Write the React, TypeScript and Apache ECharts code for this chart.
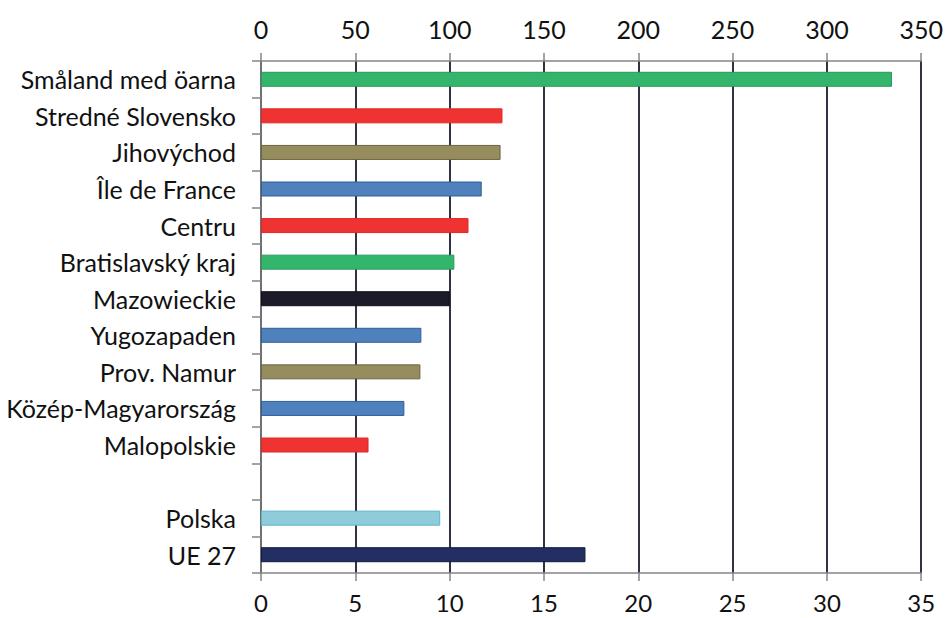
import React, { useEffect, useRef } from "react";
import * as echarts from "echarts";

const categories = [
  "Småland med öarna",
  "Stredné Slovensko",
  "Jihovýchod",
  "Île de France",
  "Centru",
  "Bratislavský kraj",
  "Mazowieckie",
  "Yugozapaden",
  "Prov. Namur",
  "Közép-Magyarország",
  "Malopolskie",
  "",
  "Polska",
  "UE 27",
];

const values: (number | null)[] = [33.45, 12.8, 12.7, 11.7, 11.0, 10.25, 10.0, 8.5, 8.45, 7.6, 5.7, null, 9.5, 17.2];

const barColors = [
  "#33b56b", "#ef3232", "#968d5e", "#4f81bd", "#ef3232", "#33b56b", "#1c1b29",
  "#4f81bd", "#968d5e", "#4f81bd", "#ef3232", "#ffffff", "#8ecbdb", "#232e63",
];
const barBorders = [
  "#2a9a58", "#e02828", "#6d6440", "#2e5e98", "#e02828", "#2a9a58", "#111118",
  "#2e5e98", "#6d6440", "#2e5e98", "#e02828", "#ffffff", "#5ab5cc", "#111a40",
];

const bottomTicks = [0, 35, 5];
const topTicks = [0, 350, 50];

export default function App() {
  const ref = useRef<HTMLDivElement>(null);
  useEffect(() => {
    if (!ref.current) return;
    const chart = echarts.init(ref.current, null, { renderer: "svg" });
    const font = "Lato";
    const labelStyle = { color: "#111", fontSize: 25, fontFamily: font };
    chart.setOption({
      animation: false,
      backgroundColor: "#ffffff",
      grid: { left: 261, right: 22, top: 61, bottom: 45, containLabel: false },
      xAxis: [
        {
          type: "value",
          position: "bottom",
          min: bottomTicks[0],
          max: bottomTicks[1],
          interval: bottomTicks[2],
          axisLine: { show: true, lineStyle: { color: "#858585", width: 1.5 } },
          axisTick: { show: true, length: 8, lineStyle: { color: "#858585", width: 1.5 } },
          axisLabel: { ...labelStyle, fontSize: 24, lineHeight: 22, margin: 18 },
          splitLine: { show: true, lineStyle: { color: "#1a1c30", width: 1.8 } },
        },
        {
          type: "value",
          position: "top",
          min: topTicks[0],
          max: topTicks[1],
          interval: topTicks[2],
          axisLine: { show: true, lineStyle: { color: "#858585", width: 1.5 } },
          axisTick: { show: true, length: 8, lineStyle: { color: "#858585", width: 1.5 } },
          axisLabel: { ...labelStyle, lineHeight: 22, margin: 21 },
          splitLine: { show: false },
        },
      ],
      yAxis: {
        type: "category",
        data: categories,
        inverse: true,
        axisLine: { show: true, onZero: false, lineStyle: { color: "#858585", width: 1.5 } },
        axisTick: { show: true, length: 9, lineStyle: { color: "#858585", width: 1.5 } },
        axisLabel: { ...labelStyle, margin: 25 },
        splitLine: { show: false },
      },
      series: [
        {
          type: "bar",
          xAxisIndex: 0,
          barWidth: 15,
          data: values.map((v, i) => ({
            value: v,
            itemStyle: { color: barColors[i], borderColor: barBorders[i], borderWidth: 1 },
          })),
        },
      ],
    });
    return () => chart.dispose();
  }, []);
  return <div ref={ref} style={{ width: 946, height: 618, position: "absolute", left: 0, top: 0 }} />;
}
